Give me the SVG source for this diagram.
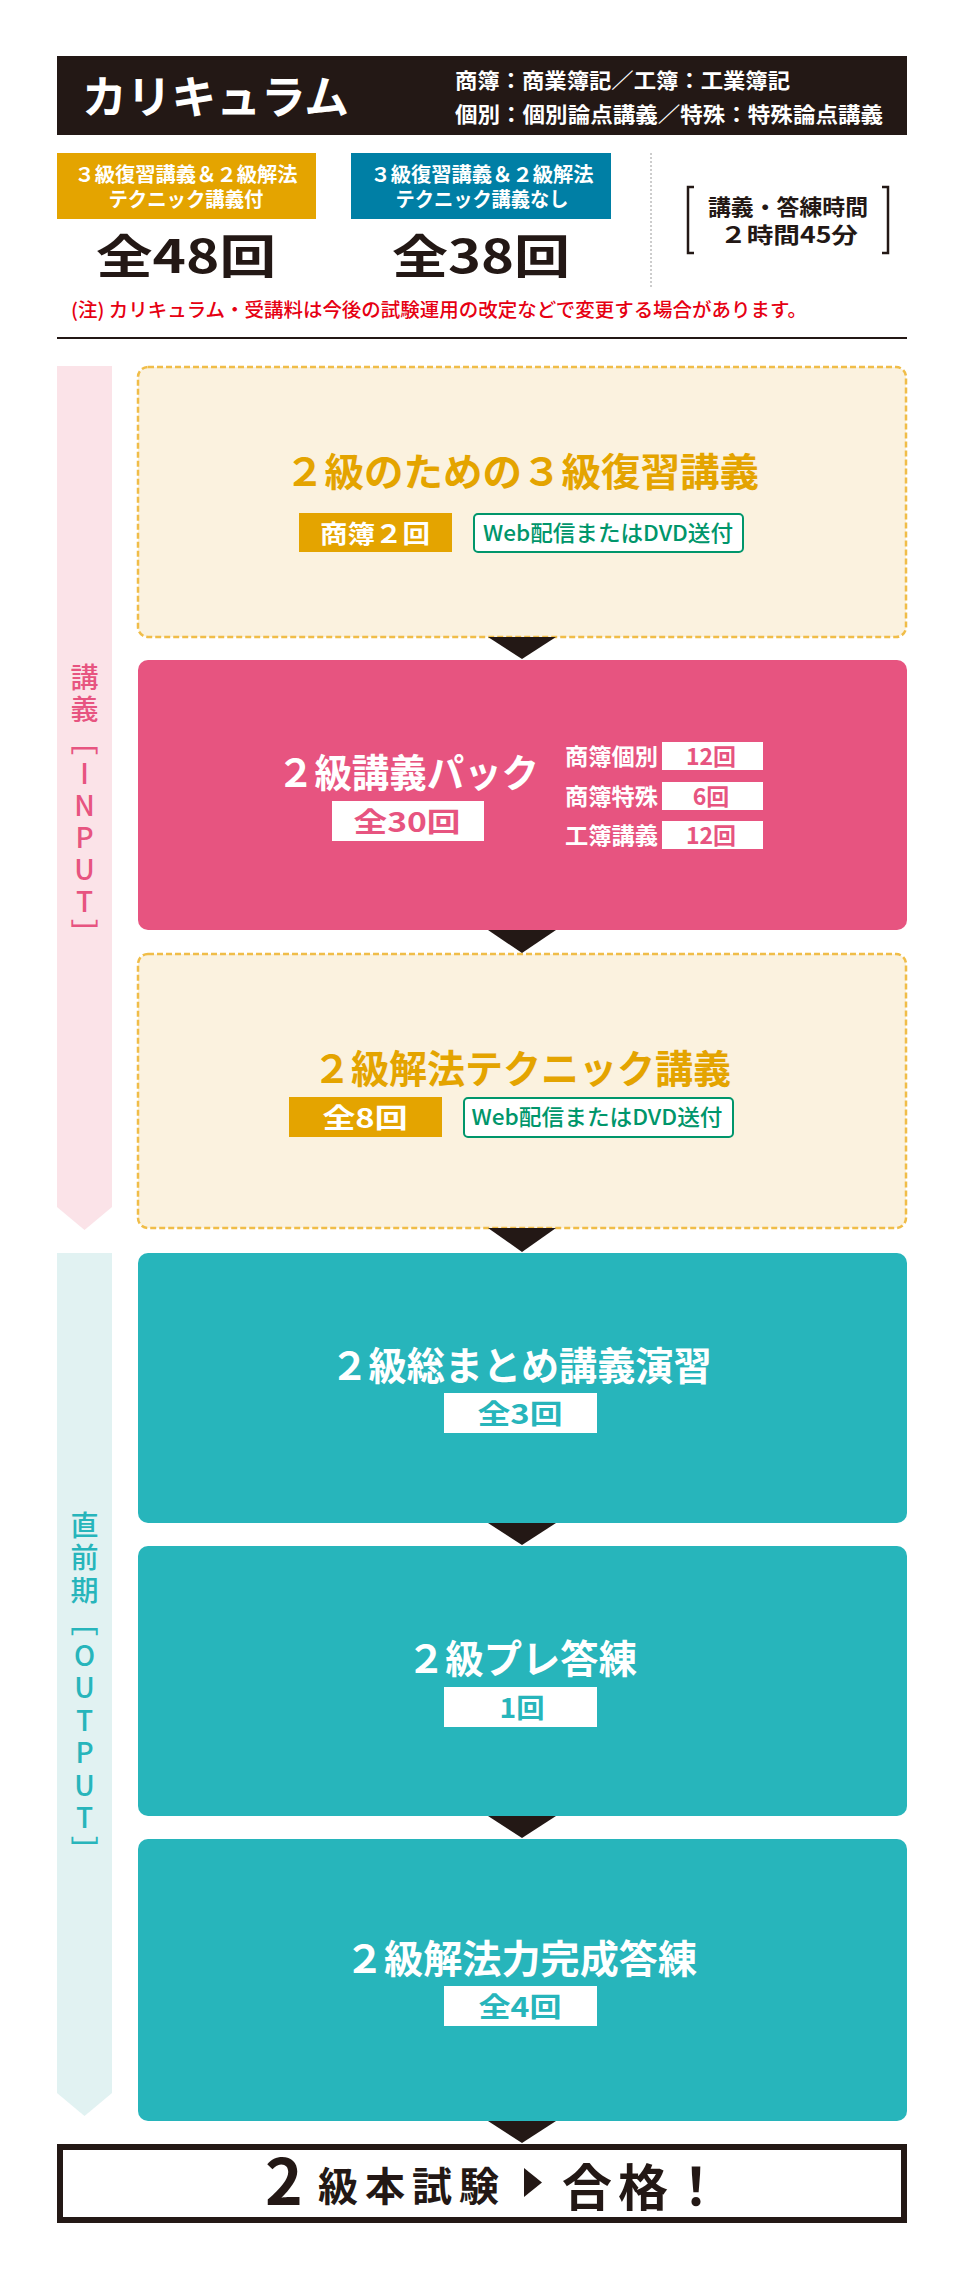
<svg xmlns="http://www.w3.org/2000/svg" width="960" height="2280" viewBox="0 0 960 2280">
<style>
text{font-family:"Noto Sans CJK JP","Noto Sans",sans-serif}
.b{font-weight:700}
.m{font-weight:500}
.c{text-anchor:middle}
.w{fill:#ffffff}
.k{fill:#231815}
.gold{fill:#e4a400}
.pink{fill:#e75480}
.teal{fill:#27b5bb}
.grn{fill:#00966b}
.title{font-size:39px;font-weight:700;text-anchor:middle}
.dash{fill:#fbf2df;stroke:#f0bd48;stroke-width:2.5;stroke-dasharray:6 3}
.web{fill:#ffffff;stroke:#00966b;stroke-width:2}
.vert{font-size:28px;font-weight:500;writing-mode:vertical-rl;text-orientation:upright}
.arrow{fill:#231815}
</style>
<rect width="960" height="2280" fill="#ffffff"/>

<g id="header">
<rect x="57" y="56" width="850" height="79" fill="#231815"/>
<text x="82" y="114" class="b w" font-size="45" textLength="267" lengthAdjust="spacingAndGlyphs">カリキュラム</text>
<text x="455" y="88" class="b w" font-size="21" textLength="335" lengthAdjust="spacingAndGlyphs">商簿：商業簿記／工簿：工業簿記</text>
<text x="455" y="122" class="b w" font-size="21" textLength="428" lengthAdjust="spacingAndGlyphs">個別：個別論点講義／特殊：特殊論点講義</text>
</g>

<g id="plan-with">
<rect x="57" y="153" width="259" height="66" fill="#e4a400"/>
<text x="186" y="182" class="b w c" font-size="20" textLength="223" lengthAdjust="spacingAndGlyphs">３級復習講義＆２級解法</text>
<text x="186" y="207" class="b w c" font-size="20" textLength="155" lengthAdjust="spacingAndGlyphs">テクニック講義付</text>
<text x="186" y="273" class="b k c" font-size="46" textLength="180" lengthAdjust="spacingAndGlyphs">全48回</text>
</g>

<g id="plan-without">
<rect x="351" y="153" width="260" height="66" fill="#007fa5"/>
<text x="482" y="182" class="b w c" font-size="20" textLength="223" lengthAdjust="spacingAndGlyphs">３級復習講義＆２級解法</text>
<text x="482" y="207" class="b w c" font-size="20" textLength="173" lengthAdjust="spacingAndGlyphs">テクニック講義なし</text>
<text x="481" y="273" class="b k c" font-size="46" textLength="178" lengthAdjust="spacingAndGlyphs">全38回</text>
</g>

<line x1="651" y1="153" x2="651" y2="288" stroke="#9a9a9a" stroke-width="1" stroke-dasharray="2 2"/>

<g id="time">
<path d="M694 187 H688 V253 H694 M882 187 H888 V253 H882" fill="none" stroke="#231815" stroke-width="2.5"/>
<text x="788" y="215" class="b k c" font-size="22" textLength="160" lengthAdjust="spacingAndGlyphs">講義・答練時間</text>
<text x="789" y="243" class="b k c" font-size="22" textLength="138" lengthAdjust="spacingAndGlyphs">２時間45分</text>
</g>

<text id="note" x="71" y="317" class="m" font-size="19" fill="#e60012" textLength="736" lengthAdjust="spacingAndGlyphs">(注) カリキュラム・受講料は今後の試験運用の改定などで変更する場合があります。</text>
<line x1="57" y1="338" x2="907" y2="338" stroke="#231815" stroke-width="2"/>

<g id="side-input">
<polygon points="57,366 112,366 112,1207 84.5,1230 57,1207" fill="#fbe3e8"/>
<text x="84.5" y="663" class="vert pink" letter-spacing="4" glyph-orientation-vertical="0">講義［INPUT］</text>
</g>

<g id="side-output">
<polygon points="57,1253 112,1253 112,2093 84.5,2116 57,2093" fill="#e1f2f2"/>
<text x="84.5" y="1511" class="vert teal" letter-spacing="4.5" glyph-orientation-vertical="0">直前期［OUTPUT］</text>
</g>

<g id="node-review3">
<rect x="138" y="367" width="768" height="270" rx="10" class="dash"/>
<text x="522" y="486" class="title gold" textLength="474" lengthAdjust="spacingAndGlyphs">２級のための３級復習講義</text>
<rect x="299" y="513" width="153" height="39" fill="#e4a400"/>
<text x="375" y="543" class="b w c" font-size="25" textLength="110" lengthAdjust="spacingAndGlyphs">商簿２回</text>
<rect x="474" y="514" width="269" height="38" rx="4" class="web"/>
<text x="608" y="541" class="m grn c" font-size="22" textLength="250" lengthAdjust="spacingAndGlyphs">Web配信またはDVD送付</text>
</g>

<g id="node-pack">
<rect x="138" y="660" width="769" height="270" rx="10" fill="#e75480"/>
<text x="408" y="787" class="title w" textLength="262" lengthAdjust="spacingAndGlyphs">２級講義パック</text>
<rect x="332" y="801" width="152" height="40" fill="#ffffff"/>
<text x="407" y="832" class="b pink c" font-size="27" textLength="107" lengthAdjust="spacingAndGlyphs">全30回</text>
<text x="565" y="765" class="b w" font-size="23" textLength="93" lengthAdjust="spacingAndGlyphs">商簿個別</text>
<rect x="662" y="742" width="101" height="28" fill="#ffffff"/>
<text x="711" y="765" class="b pink c" font-size="23">12回</text>
<text x="565" y="805" class="b w" font-size="23" textLength="93" lengthAdjust="spacingAndGlyphs">商簿特殊</text>
<rect x="662" y="782" width="101" height="28" fill="#ffffff"/>
<text x="711" y="805" class="b pink c" font-size="23">6回</text>
<text x="565" y="844" class="b w" font-size="23" textLength="93" lengthAdjust="spacingAndGlyphs">工簿講義</text>
<rect x="662" y="821" width="101" height="28" fill="#ffffff"/>
<text x="711" y="844" class="b pink c" font-size="23">12回</text>
</g>

<g id="node-technique">
<rect x="138" y="954" width="768" height="274" rx="10" class="dash"/>
<text x="522" y="1083" class="title gold" textLength="418" lengthAdjust="spacingAndGlyphs">２級解法テクニック講義</text>
<rect x="289" y="1097" width="153" height="40" fill="#e4a400"/>
<text x="365" y="1128" class="b w c" font-size="27" textLength="85" lengthAdjust="spacingAndGlyphs">全8回</text>
<rect x="464" y="1098" width="269" height="39" rx="4" class="web"/>
<text x="597" y="1125" class="m grn c" font-size="22" textLength="251" lengthAdjust="spacingAndGlyphs">Web配信またはDVD送付</text>
</g>

<g id="node-summary">
<rect x="138" y="1253" width="769" height="270" rx="10" fill="#27b5bb"/>
<text x="521" y="1380" class="title w" textLength="381" lengthAdjust="spacingAndGlyphs">２級総まとめ講義演習</text>
<rect x="444" y="1393" width="153" height="40" fill="#ffffff"/>
<text x="520" y="1424" class="b teal c" font-size="27" textLength="85" lengthAdjust="spacingAndGlyphs">全3回</text>
</g>

<g id="node-pre">
<rect x="138" y="1546" width="769" height="270" rx="10" fill="#27b5bb"/>
<text x="522" y="1673" class="title w" textLength="230" lengthAdjust="spacingAndGlyphs">２級プレ答練</text>
<rect x="444" y="1687" width="153" height="40" fill="#ffffff"/>
<text x="522" y="1718" class="b teal c" font-size="27" textLength="45" lengthAdjust="spacingAndGlyphs">1回</text>
</g>

<g id="node-complete">
<rect x="138" y="1839" width="769" height="282" rx="10" fill="#27b5bb"/>
<text x="521" y="1973" class="title w" textLength="352" lengthAdjust="spacingAndGlyphs">２級解法力完成答練</text>
<rect x="444" y="1986" width="153" height="40" fill="#ffffff"/>
<text x="520" y="2017" class="b teal c" font-size="27" textLength="83" lengthAdjust="spacingAndGlyphs">全4回</text>
</g>

<g id="node-exam">
<rect x="60" y="2147" width="844" height="73" fill="#ffffff" stroke="#231815" stroke-width="6"/>
<text y="2205" class="b k"><tspan x="265" font-size="64">2</tspan><tspan x="318" y="2201" font-size="40" letter-spacing="7">級本試験</tspan><tspan x="562" y="2206" font-size="50" letter-spacing="6">合格</tspan><tspan x="670" y="2206" font-size="52">！</tspan></text>
<polygon points="524,2168 542,2182.5 524,2197" fill="#231815"/>
</g>

<g id="connectors">
<polygon class="arrow" points="488,637 556,637 522,659"/>
<polygon class="arrow" points="488,930 556,930 522,953"/>
<polygon class="arrow" points="488,1228 556,1228 522,1252"/>
<polygon class="arrow" points="488,1523 556,1523 522,1545"/>
<polygon class="arrow" points="488,1816 556,1816 522,1838"/>
<polygon class="arrow" points="488,2121 556,2121 522,2143"/>
</g>
</svg>
